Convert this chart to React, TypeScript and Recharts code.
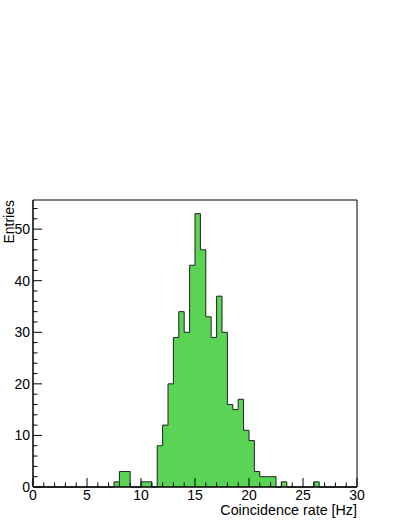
import { ComposedChart, Area, XAxis, YAxis, ReferenceArea } from "recharts";

// histogram: 60 bins of 0.5 Hz from 0 to 30
const binWidth = 0.5;
const counts = [
  0, 0, 0, 0, 0, 0, 0, 0, 0, 0, 0, 0, 0, 0, 0, 1, 3, 3, 0, 0,
  1, 1, 0, 8, 12, 20, 29, 34, 30, 43, 53, 46, 33, 29, 37, 30, 16, 15, 17, 11,
  9, 3, 2, 2, 2, 0, 1, 0, 0, 0, 0, 0, 1, 0, 0, 0, 0, 0, 0, 0,
];
const xMajorTicks = [0, 5, 10, 15, 20, 25, 30];
const yMajorTicks = [0, 10, 20, 30, 40, 50];
const xMinorStep = 1;
const yMinorStep = 2;
const xTitle = "Coincidence rate [Hz]";
const yTitle = "Entries";

const data = counts
  .map((c, i) => ({ x: i * binWidth, y: c }))
  .concat([{ x: counts.length * binWidth, y: 0 }]);

const xMax = 30;
const yMax = Math.max(...counts) * 1.05;

const xTicks: number[] = [];
for (let v = 0; v <= xMax; v += xMinorStep) xTicks.push(v);
const yTicks: number[] = [];
for (let v = 0; v <= yMax; v += yMinorStep) yTicks.push(v);

const W = 402;
const H = 520;
const box = { left: 33, right: 357, top: 200, bottom: 487 };
const font = "'Liberation Sans', Arial, Helvetica, sans-serif";

const XTick = (props: any) => {
  const { x, y, payload } = props;
  const major = xMajorTicks.includes(payload.value);
  return (
    <g>
      <line x1={x} x2={x} y1={y} y2={y - (major ? 9 : 4.5)} stroke="#000" />
      {major && (
        <text x={x} y={y + 12.5} textAnchor="middle" fontSize={14} fontFamily={font} fill="#000">
          {payload.value}
        </text>
      )}
    </g>
  );
};

const YTick = (props: any) => {
  const { x, y, payload } = props;
  const major = yMajorTicks.includes(payload.value);
  return (
    <g>
      <line x1={x} x2={x + (major ? 9 : 4.5)} y1={y} y2={y} stroke="#000" />
      {major && (
        <text x={x - 3} y={y + 5} textAnchor="end" fontSize={14} fontFamily={font} fill="#000">
          {payload.value}
        </text>
      )}
    </g>
  );
};

export default function App() {
  return (
    <div style={{ position: "absolute", left: 0, top: 0, width: W, height: H, background: "#fff" }}>
      <ComposedChart
        width={W}
        height={H}
        data={data}
        margin={{ top: box.top, left: 0, right: W - box.right, bottom: 0 }}
      >
        <Area
          type="stepAfter"
          dataKey="y"
          fill="#59d454"
          fillOpacity={1}
          stroke="#222"
          strokeWidth={1}
          isAnimationActive={false}
          dot={false}
          activeDot={false}
        />
        <XAxis
          dataKey="x"
          type="number"
          domain={[0, xMax]}
          ticks={xTicks}
          interval={0}
          height={H - box.bottom}
          tickSize={0}
          tickMargin={0}
          tickLine={false}
          axisLine={{ stroke: "#000" }}
          tick={(p: any) => <XTick {...p} />}
          label={{
            content: () => (
              <text x={box.right} y={514.5} textAnchor="end" fontSize={14.3} fontFamily={font} fill="#000">
                {xTitle}
              </text>
            ),
          }}
        />
        <YAxis
          type="number"
          domain={[0, yMax]}
          ticks={yTicks}
          interval={0}
          width={box.left}
          tickSize={0}
          tickMargin={0}
          tickLine={false}
          axisLine={{ stroke: "#000" }}
          tick={(p: any) => <YTick {...p} />}
          label={{
            content: () => (
              <text
                x={14}
                y={box.top}
                transform={`rotate(-90 14 ${box.top})`}
                textAnchor="end"
                fontSize={14}
                fontFamily={font}
                fill="#000"
              >
                {yTitle}
              </text>
            ),
          }}
        />
        <ReferenceArea x1={0} x2={xMax} y1={0} y2={yMax} fill="none" stroke="#000" strokeWidth={1} />
      </ComposedChart>
    </div>
  );
}
